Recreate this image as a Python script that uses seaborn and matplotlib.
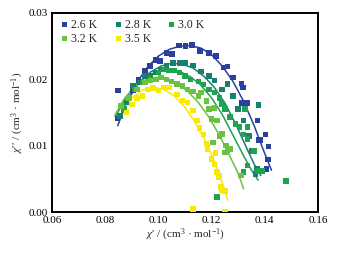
import numpy as np
import pandas as pd
import matplotlib
matplotlib.use("Agg")
import matplotlib.pyplot as plt
import seaborn as sns
from matplotlib.ticker import MultipleLocator

# ---- data ----
labels = ["2.6 K", "2.8 K", "3.0 K", "3.2 K", "3.5 K"]
colors = ["#2b3f9c", "#17806c", "#1ea34e", "#6cc042", "#f7ea00"]

x26 = [0.0846, 0.0848, 0.0905, 0.0925, 0.0950, 0.0968, 0.0990, 0.1005, 0.1030, 0.1052, 0.1077, 0.1101, 0.1126, 0.1156, 0.1191, 0.1216, 0.1244, 0.1260, 0.1280, 0.1313, 0.1317, 0.1312, 0.1333, 0.1373, 0.1377, 0.1383, 0.1403, 0.1414, 0.1411, 0.1407]
y26 = [0.0141, 0.0183, 0.0184, 0.0200, 0.0213, 0.0220, 0.0229, 0.0228, 0.0240, 0.0238, 0.0251, 0.0250, 0.0252, 0.0243, 0.0240, 0.0235, 0.0218, 0.0219, 0.0203, 0.0194, 0.0188, 0.0164, 0.0164, 0.0138, 0.0109, 0.0109, 0.0117, 0.0099, 0.0079, 0.0065]

x28 = [0.0855, 0.0880, 0.0905, 0.0930, 0.0950, 0.0970, 0.0990, 0.1010, 0.1030, 0.1055, 0.1080, 0.1100, 0.1130, 0.1160, 0.1190, 0.1210, 0.1240, 0.1260, 0.1280, 0.1300, 0.1320, 0.1340, 0.1350, 0.1376, 0.1370, 0.1365]
y28 = [0.0145, 0.0165, 0.0190, 0.0195, 0.0205, 0.0205, 0.0210, 0.0215, 0.0220, 0.0225, 0.0225, 0.0225, 0.0221, 0.0212, 0.0205, 0.0198, 0.0185, 0.0193, 0.0175, 0.0155, 0.0138, 0.0115, 0.0092, 0.0161, 0.0065, 0.0057]

x30 = [0.0870, 0.0910, 0.0940, 0.0970, 0.1000, 0.1020, 0.1040, 0.1060, 0.1080, 0.1100, 0.1120, 0.1150, 0.1170, 0.1190, 0.1210, 0.1230, 0.1240, 0.1250, 0.1270, 0.1290, 0.1305, 0.1320, 0.1335, 0.1335, 0.1325, 0.1360, 0.1375, 0.1390, 0.1480, 0.1320, 0.1335, 0.1220]
y30 = [0.0155, 0.0185, 0.0195, 0.0201, 0.0210, 0.0215, 0.0213, 0.0213, 0.0210, 0.0205, 0.0200, 0.0197, 0.0192, 0.0185, 0.0180, 0.0172, 0.0163, 0.0155, 0.0143, 0.0133, 0.0128, 0.0117, 0.0110, 0.0128, 0.0155, 0.0092, 0.0062, 0.0062, 0.0047, 0.0060, 0.0070, 0.0023]

x32 = [0.0860, 0.0890, 0.0920, 0.0950, 0.0970, 0.0990, 0.1010, 0.1030, 0.1050, 0.1070, 0.1090, 0.1110, 0.1130, 0.1150, 0.1160, 0.1180, 0.1190, 0.1200, 0.1210, 0.1220, 0.1230, 0.1240, 0.1255, 0.1250, 0.1260, 0.1185, 0.1205, 0.1310, 0.1270]
y32 = [0.0160, 0.0172, 0.0185, 0.0195, 0.0198, 0.0200, 0.0203, 0.0200, 0.0197, 0.0193, 0.0190, 0.0185, 0.0182, 0.0175, 0.0180, 0.0167, 0.0155, 0.0140, 0.0157, 0.0138, 0.0115, 0.0118, 0.0100, 0.0090, 0.0093, 0.0097, 0.0105, 0.0055, 0.0095]

x35 = [0.0880, 0.0900, 0.0920, 0.0940, 0.0960, 0.0980, 0.1000, 0.1020, 0.1040, 0.1070, 0.1090, 0.1110, 0.1130, 0.1145, 0.1155, 0.1170, 0.1180, 0.1185, 0.1200, 0.1210, 0.1220, 0.1225, 0.1230, 0.1235, 0.1240, 0.1250, 0.1215, 0.1130, 0.1250]
y35 = [0.0150, 0.0162, 0.0172, 0.0175, 0.0185, 0.0187, 0.0183, 0.0188, 0.0188, 0.0177, 0.0168, 0.0165, 0.0153, 0.0138, 0.0127, 0.0117, 0.0103, 0.0095, 0.0080, 0.0072, 0.0060, 0.0052, 0.0055, 0.0038, 0.0033, 0.0032, 0.0089, 0.0005, 0.0000]

# fitted curves
fx26 = [0.0847, 0.0880, 0.0920, 0.0960, 0.1000, 0.1040, 0.1080, 0.1120, 0.1160, 0.1200, 0.1240, 0.1280, 0.1320, 0.1360, 0.1390, 0.1410, 0.1425]
fy26 = [0.0130, 0.0165, 0.0196, 0.0219, 0.0235, 0.0245, 0.0250, 0.0251, 0.0247, 0.0237, 0.0220, 0.0197, 0.0167, 0.0130, 0.0098, 0.0078, 0.0063]
fx28 = [0.0855, 0.0890, 0.0930, 0.0970, 0.1010, 0.1050, 0.1090, 0.1130, 0.1170, 0.1210, 0.1250, 0.1290, 0.1330, 0.1360, 0.1385]
fy28 = [0.0143, 0.0172, 0.0196, 0.0211, 0.0220, 0.0224, 0.0223, 0.0217, 0.0205, 0.0188, 0.0164, 0.0133, 0.0098, 0.0072, 0.0055]
fx30 = [0.0840, 0.0880, 0.0920, 0.0960, 0.1000, 0.1040, 0.1080, 0.1120, 0.1160, 0.1200, 0.1240, 0.1280, 0.1320, 0.1350, 0.1375]
fy30 = [0.0145, 0.0173, 0.0194, 0.0206, 0.0212, 0.0214, 0.0212, 0.0204, 0.0191, 0.0172, 0.0147, 0.0116, 0.0085, 0.0063, 0.0048]
fx32 = [0.0835, 0.0870, 0.0910, 0.0950, 0.0990, 0.1030, 0.1070, 0.1110, 0.1150, 0.1190, 0.1230, 0.1270, 0.1300, 0.1320]
fy32 = [0.0145, 0.0170, 0.0189, 0.0199, 0.0203, 0.0201, 0.0194, 0.0182, 0.0165, 0.0143, 0.0115, 0.0083, 0.0058, 0.0035]
fx35 = [0.0870, 0.0900, 0.0940, 0.0980, 0.1020, 0.1060, 0.1100, 0.1140, 0.1180, 0.1210, 0.1230, 0.1250, 0.1260]
fy35 = [0.0155, 0.0172, 0.0184, 0.0188, 0.0185, 0.0175, 0.0158, 0.0134, 0.0104, 0.0077, 0.0055, 0.0032, 0.0018]

xticks = [0.06, 0.08, 0.10, 0.12, 0.14, 0.16]
yticks = [0.00, 0.01, 0.02, 0.03]

pts = pd.concat([
    pd.DataFrame({"x": x, "y": y, "T": lab})
    for x, y, lab in zip([x26, x28, x30, x32, x35], [y26, y28, y30, y32, y35], labels)
])
fits = pd.concat([
    pd.DataFrame({"x": x, "y": y, "T": lab})
    for x, y, lab in zip([fx26, fx28, fx30, fx32, fx35], [fy26, fy28, fy30, fy32, fy35], labels)
])

sns.set_style("white")
plt.rcParams["font.family"] = ["Liberation Serif", "DejaVu Serif"]
plt.rcParams["mathtext.fontset"] = "custom"
plt.rcParams["mathtext.rm"] = "Liberation Serif"
plt.rcParams["mathtext.it"] = "Liberation Serif:italic"

fig = plt.figure(figsize=(3.42, 2.54), dpi=100)
ax = fig.add_axes([0.152, 0.165, 0.778, 0.784])
pal = dict(zip(labels, colors))

sns.lineplot(data=fits, x="x", y="y", hue="T", palette=pal, sort=False,
             estimator=None, units="T", lw=1.1, legend=False, ax=ax)
sns.scatterplot(data=pts, x="x", y="y", hue="T", palette=pal, marker="s",
                s=16, linewidth=0, ax=ax, zorder=3)

ax.set_xlim(0.06, 0.16)
ax.set_ylim(0.0, 0.03)
ax.set_xticks(xticks)
ax.set_xticklabels([f"{v:.2f}" for v in xticks])
ax.set_yticks(yticks)
ax.set_yticklabels([f"{v:.2f}" for v in yticks])
ax.xaxis.set_minor_locator(MultipleLocator(0.01))
ax.yaxis.set_minor_locator(MultipleLocator(0.005))
ax.tick_params(which="both", direction="in", top=False, right=False,
               labelsize=8, width=1.0, colors="black", pad=3)
ax.tick_params(which="major", length=3)
ax.tick_params(which="minor", length=2)
for s in ax.spines.values():
    s.set_linewidth(1.4)
    s.set_color("black")

ax.set_xlabel(r"$\mathit{\chi}$′ / (cm$^{3}$ · mol$^{-1}$)", fontsize=8, labelpad=1.5)
ax.set_ylabel(r"$\mathit{\chi}$′′ / (cm$^{3}$ · mol$^{-1}$)", fontsize=8, labelpad=1.5)

handles, labs = ax.get_legend_handles_labels()
order = [0, 3, 1, 4, 2]
leg = ax.legend([handles[i] for i in order], [labs[i] for i in order],
                loc="upper left", ncol=3, frameon=False, fontsize=8.5,
                handletextpad=0.1, columnspacing=1.2, borderaxespad=0.15,
                labelspacing=0.15, handlelength=1.0, markerscale=0.9)

fig.savefig("out.png", dpi=100)
